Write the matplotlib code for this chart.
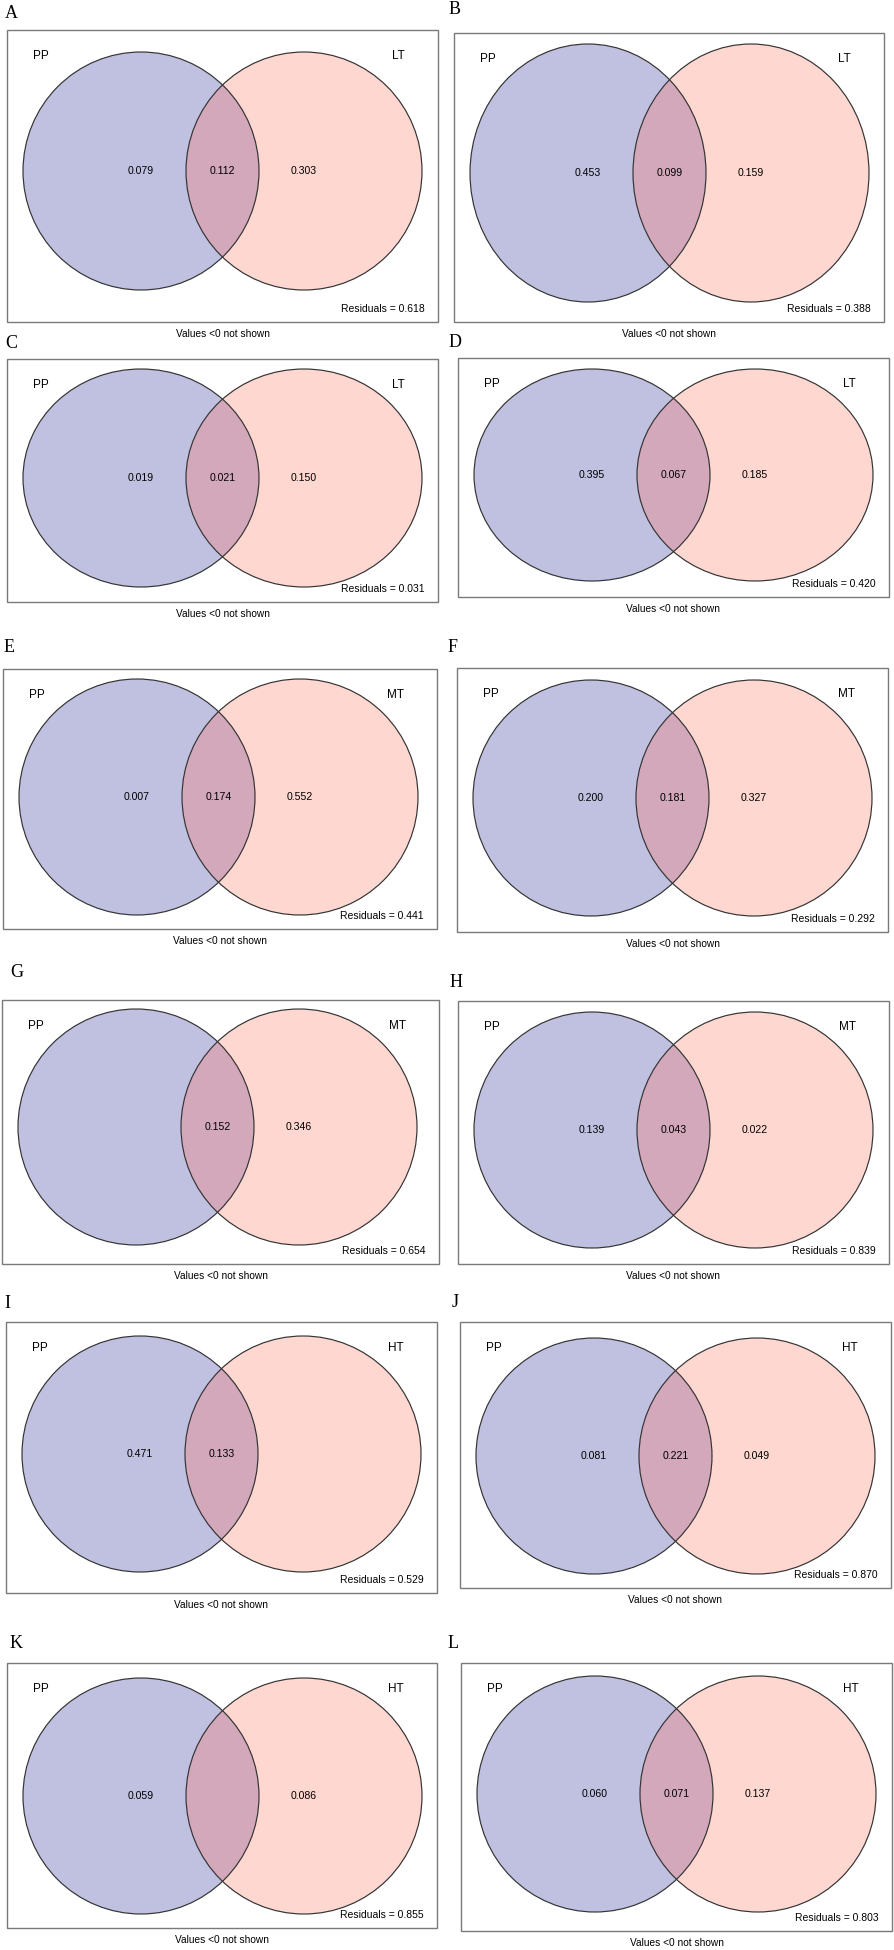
import matplotlib.pyplot as plt
from matplotlib.patches import Ellipse, Rectangle

# panel data
letters = ['A', 'B', 'C', 'D', 'E', 'F', 'G', 'H', 'I', 'J', 'K', 'L']
set_b = ['LT', 'LT', 'LT', 'LT', 'MT', 'MT', 'MT', 'MT', 'HT', 'HT', 'HT', 'HT']
only_pp = [0.079, 0.453, 0.019, 0.395, 0.007, 0.200, None, 0.139, 0.471, 0.081, 0.059, 0.060]
shared = [0.112, 0.099, 0.021, 0.067, 0.174, 0.181, 0.152, 0.043, 0.133, 0.221, None, 0.071]
only_b = [0.303, 0.159, 0.150, 0.185, 0.552, 0.327, 0.346, 0.022, None, 0.049, 0.086, 0.137]
residuals = [0.618, 0.388, 0.031, 0.420, 0.441, 0.292, 0.654, 0.839, 0.529, 0.870, 0.855, 0.803]

# layout in pixels: box x0, y0, x1, y1, circle centre y, vertical radius
boxes = [
    (7, 30, 438, 322, 171, 119),
    (454, 33, 884, 322, 173, 129),
    (7, 359, 438, 602, 478, 109),
    (458, 358, 889, 597, 475, 106),
    (3, 669, 437, 929, 797, 118),
    (457, 668, 888, 932, 798, 118),
    (2, 1000, 439, 1264, 1127, 118),
    (458, 1001, 889, 1264, 1130, 118),
    (6, 1322, 437, 1593, 1454, 118),
    (460, 1322, 891, 1588, 1456, 118),
    (7, 1663, 437, 1928, 1796, 118),
    (461, 1663, 892, 1931, 1794, 118),
]
letter_xy = [(5, 18), (449, 14), (5, 348), (449, 347), (4, 652), (448, 652),
             (10, 977), (450, 987), (4, 1308), (452, 1307), (10, 1648), (448, 1648)]

col_pp = '#c0c1e1'
col_b = '#fed8d0'
col_both = '#d2a8ba'
edge = '#333333'
sans = 'Liberation Sans'

fig = plt.figure(figsize=(8.94, 19.5), dpi=100)
ax = fig.add_axes([0, 0, 1, 1])
ax.set_xlim(0, 894)
ax.set_ylim(1950, 0)
ax.axis('off')

for i in range(len(letters)):
    x0, y0, x1, y1, cy, ry = boxes[i]
    cx1 = x0 + 134
    cx2 = x0 + 297
    rx = 118

    ax.add_patch(Rectangle((x0, y0), x1 - x0, y1 - y0, fill=False,
                           edgecolor='#7a7a7a', lw=1.0))

    left = Ellipse((cx1, cy), 2 * rx, 2 * ry, facecolor=col_pp, edgecolor='none')
    right = Ellipse((cx2, cy), 2 * rx, 2 * ry, facecolor=col_b, edgecolor='none')
    ax.add_patch(left)
    ax.add_patch(right)
    lens = Ellipse((cx1, cy), 2 * rx, 2 * ry, facecolor=col_both, edgecolor='none')
    ax.add_patch(lens)
    lens.set_clip_path(right)
    for cx in (cx1, cx2):
        ax.add_patch(Ellipse((cx, cy), 2 * rx, 2 * ry, fill=False,
                             edgecolor=edge, lw=0.85))

    ax.text(x0 + 26, y0 + 26, 'PP', family=sans, fontsize=8.5, ha='left', va='center')
    ax.text(x1 - 33, y0 + 26, set_b[i], family=sans, fontsize=8.5, ha='right', va='center')

    vals = [(only_pp[i], cx1), (shared[i], (cx1 + cx2) / 2), (only_b[i], cx2)]
    for v, x in vals:
        if v is not None:
            ax.text(x, cy, f'{v:.3f}', family=sans, fontsize=7.6, ha='center', va='center')

    ax.text(x1 - 13, y1 - 13, f'Residuals = {residuals[i]:.3f}', family=sans,
            fontsize=7.5, ha='right', va='center')
    ax.text((x0 + x1) / 2, y1 + 12, 'Values <0 not shown', family=sans,
            fontsize=7.3, ha='center', va='center')

    lx, ly = letter_xy[i]
    ax.text(lx, ly, letters[i], family='Liberation Serif', fontsize=13,
            ha='left', va='baseline')

fig.savefig('out.png', dpi=100, facecolor='white')
